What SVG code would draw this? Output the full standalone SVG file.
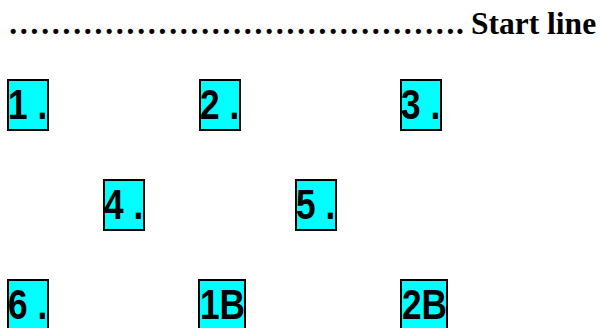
<svg xmlns="http://www.w3.org/2000/svg" width="600" height="328" viewBox="0 0 600 328">
<style>
.hdr{font-family:"Liberation Serif","Times New Roman",serif;font-weight:bold;font-size:31.5px;fill:#000}
.box{fill:#00FFFF;stroke:#000;stroke-width:2}
.lbl{font-family:"Liberation Sans Narrow","Arial Narrow","Liberation Sans",sans-serif;font-weight:bold;font-size:42px;fill:#000}
</style>
<rect width="600" height="328" fill="#fff"/>
<g id="header">
<text class="hdr" x="8" y="34" letter-spacing="0.5">&#8230;&#8230;&#8230;&#8230;&#8230;&#8230;&#8230;&#8230;&#8230;&#8230;&#8230;&#8230;&#8230;&#8230;.</text>
<text class="hdr" x="471" y="34">Start line</text>
</g>
<g id="n1"><rect class="box" x="8" y="80" width="40" height="50"/><text class="lbl" transform="translate(8,119) scale(0.84,1)">1 .</text></g>
<g id="n2"><rect class="box" x="200" y="80" width="40" height="50"/><text class="lbl" transform="translate(200,119) scale(0.84,1)">2 .</text></g>
<g id="n3"><rect class="box" x="401" y="80" width="40" height="50"/><text class="lbl" transform="translate(401,119) scale(0.84,1)">3 .</text></g>
<g id="n4"><rect class="box" x="104" y="180" width="40" height="50"/><text class="lbl" transform="translate(104,219) scale(0.84,1)">4 .</text></g>
<g id="n5"><rect class="box" x="296" y="180" width="40" height="50"/><text class="lbl" transform="translate(296,219) scale(0.84,1)">5 .</text></g>
<g id="n6"><rect class="box" x="8" y="280" width="40" height="50"/><text class="lbl" transform="translate(8,319) scale(0.84,1)">6 .</text></g>
<g id="n1B"><rect class="box" x="199" y="280" width="46" height="50"/><text class="lbl" transform="translate(200,319) scale(0.84,1)">1B</text></g>
<g id="n2B"><rect class="box" x="401" y="280" width="46" height="50"/><text class="lbl" transform="translate(402,319) scale(0.84,1)">2B</text></g>
<g id="connectors"/>
</svg>
